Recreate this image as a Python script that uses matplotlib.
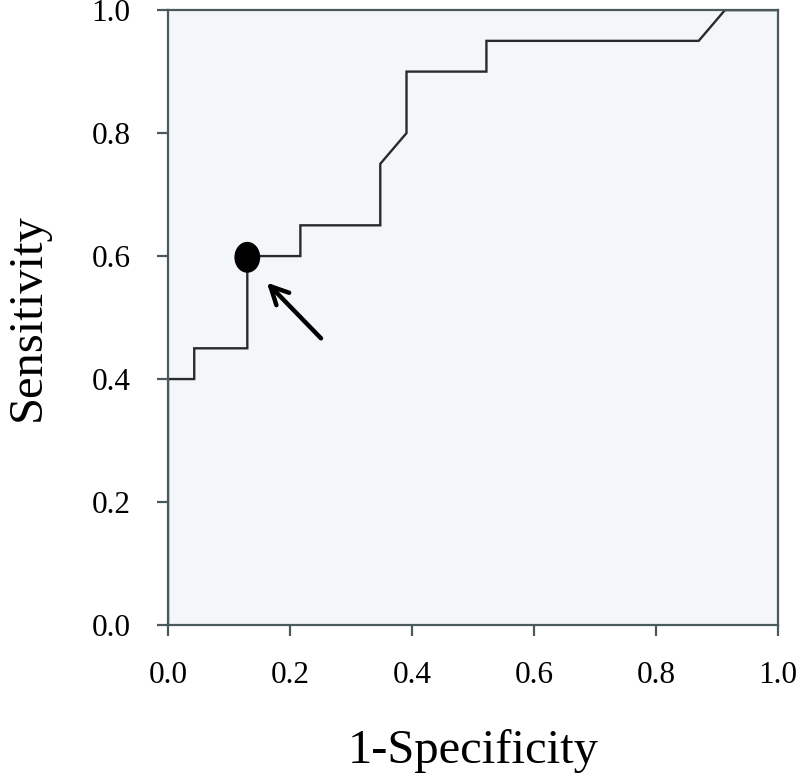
import matplotlib
matplotlib.use('Agg')
import matplotlib.pyplot as plt
from matplotlib.patches import Ellipse

# ROC 曲线数据 (1-Specificity, Sensitivity)
fpr = [0.0, 0.0, 0.043, 0.043, 0.130, 0.130, 0.217, 0.217, 0.348, 0.348,
       0.391, 0.391, 0.522, 0.522, 0.870, 0.913, 1.0]
tpr = [0.0, 0.40, 0.40, 0.45, 0.45, 0.60, 0.60, 0.65, 0.65, 0.75,
       0.80, 0.90, 0.90, 0.95, 0.95, 1.0, 1.0]

# 最佳截断点
cut_x, cut_y = 0.130, 0.598
arrow_tail = (0.254, 0.463)
arrow_head = (0.159, 0.560)

ticks = [0.0, 0.2, 0.4, 0.6, 0.8, 1.0]
tick_labels = ['0.0', '0.2', '0.4', '0.6', '0.8', '1.0']

plt.rcParams['font.family'] = ['Liberation Serif', 'DejaVu Serif']

fig = plt.figure(figsize=(8, 7.77), dpi=100)
ax = fig.add_axes([0.21, 0.1956, 0.7625, 0.7914])
ax.set_facecolor('#f4f7f9')

ax.plot(fpr, tpr, color='#2a2a2a', lw=1.7, solid_joinstyle='miter')

# 截断点标记（椭圆）
ax.add_patch(Ellipse((cut_x, cut_y), width=0.040, height=0.048,
                     facecolor='black', edgecolor='black', zorder=5))

ax.annotate('', xy=arrow_head, xytext=arrow_tail,
            arrowprops=dict(arrowstyle='->', color='black', lw=3.2,
                            mutation_scale=32))

ax.set_xlim(0, 1)
ax.set_ylim(0, 1)
ax.set_xticks(ticks)
ax.set_xticklabels(tick_labels)
ax.set_yticks(ticks)
ax.set_yticklabels(tick_labels)

for s in ax.spines.values():
    s.set_color('#4a5a5a')
    s.set_linewidth(1.6)

ax.tick_params(axis='both', direction='out', length=8, width=1.6,
               color='#4a5a5a', labelsize=22.5)
ax.tick_params(axis='x', pad=18)
ax.tick_params(axis='y', pad=19)

ax.set_xlabel('1-Specificity', fontsize=35, labelpad=28)
ax.set_ylabel('Sensitivity', fontsize=35, labelpad=30)

plt.savefig('out.png', dpi=100)
